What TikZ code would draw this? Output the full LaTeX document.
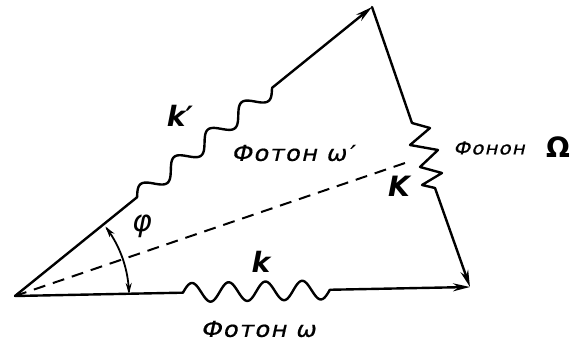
\documentclass[tikz,border=0pt]{standalone}
\usepackage{fontspec}
\newfontfamily\dv{DejaVu Sans}
\newfontfamily\lab[FakeSlant=0.22,FakeStretch=1.1,LetterSpace=6,FakeBold=0.6]{DejaVu Sans}
\usetikzlibrary{arrows.meta,calc}
\begin{document}
\begin{tikzpicture}[x=1pt,y=-1pt,
  ln/.style={line width=2.4pt,line cap=round,line join=round},
  tipend/.style={-{Stealth[length=17pt,width=8pt]}},
  txt/.style={inner sep=0pt,font=\lab\fontsize{22}{24}\selectfont},
  sym/.style={inner sep=0pt,font=\dv\bfseries\itshape\fontsize{28}{30}\selectfont}]
\useasboundingbox (0,0) rectangle (582,342);
\coordinate (O) at (15,296);
\coordinate (T) at (372,7);
\coordinate (B) at (470,287);
\coordinate (D) at (408,162);
\coordinate (a1) at (137.1,197.2);
\coordinate (a2) at (272.0,87.9);
\coordinate (b1) at (182.9,292.68);
\coordinate (b2) at (329.9,289.77);
\coordinate (z0) at (412,123);
\coordinate (z1) at (430,128);
\coordinate (z2) at (410,145);
\coordinate (z3) at (438,150);
\coordinate (z4) at (420,167);
\coordinate (z5) at (442,173);
\coordinate (z6) at (422,185);
\coordinate (z7) at (435,188);
% upper photon k'
\draw[ln] (O) -- (a1);
\draw[ln] plot[domain=0:1,samples=160]
  ({137.1+134.9*\x-0.6296*8*sin(1440*\x)},{197.2-109.3*\x-0.7771*8*sin(1440*\x)});
\draw[ln,tipend] (a2) -- (T);
% phonon
\draw[ln] (T) -- (z0) -- (z1) -- (z2) -- (z3) -- (z4) -- (z5) -- (z6) -- (z7);
\draw[ln,tipend] (z7) -- (B);
% lower photon k
\draw[ln] (O) -- (b1);
\draw[ln] plot[domain=0:1,samples=160]
  ({182.9+147.0*\x-0.0198*9.5*sin(1440*\x)},{292.68-2.91*\x-0.9998*9.5*sin(1440*\x)});
\draw[ln,tipend] (b2) -- (B);
% dashed
\draw[line width=2pt,dash pattern=on 12pt off 8pt] (O) -- (D);
% angle
\draw[line width=1.8pt,{Stealth[length=11pt,width=6pt]}-{Stealth[length=11pt,width=6pt]}]
  plot[domain=-37.5:-1,samples=40] ({15+114*cos(\x)},{296+114*sin(\x)});
% labels
\node[sym] (lkp) at (180,116) {k′};
\node[txt] (lfw) at (292,153) {Фотон ω′};
\node[txt,font=\lab\fontsize{18}{20}\selectfont] (lfn) at (489,148) {Фонон};
\node[inner sep=0pt,font=\dv\bfseries\fontsize{28}{30}\selectfont] (lom) at (558,147) {Ω};
\node[sym] (lK) at (399,186) {K};
\node[inner sep=0pt,font=\dv\itshape\fontsize{30}{32}\selectfont] (lphi) at (142,226) {φ};
\node[sym] (lk) at (261,262) {k};
\node[txt] (lw) at (258,329) {Фотон ω};
\end{tikzpicture}
\end{document}
